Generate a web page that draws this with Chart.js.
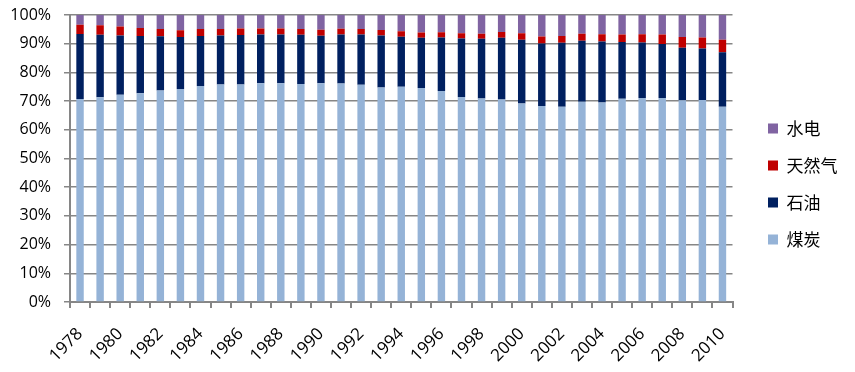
<!DOCTYPE html>
<html lang="zh">
<head>
    <meta charset="UTF-8">
    <title>能源消费结构</title>
    <script src="https://cdn.jsdelivr.net/npm/chart.js"></script>
    <style>
        html, body { margin: 0; padding: 0; background: #fff; }
        .container { width: 855px; height: 372px; }
    </style>
</head>
<body>
    <div class="container">
        <canvas id="energyChart" width="855" height="372"></canvas>
    </div>

    <script>
        const years = ['1978', '1979', '1980', '1981', '1982', '1983', '1984', '1985', '1986', '1987', '1988',
            '1989', '1990', '1991', '1992', '1993', '1994', '1995', '1996', '1997', '1998', '1999',
            '2000', '2001', '2002', '2003', '2004', '2005', '2006', '2007', '2008', '2009', '2010'];

        // share of total energy consumption, %
        const coal = [70.7, 71.3, 72.2, 72.7, 73.7, 74.2, 75.3, 75.8, 75.8, 76.2, 76.2,
            76.0, 76.2, 76.1, 75.7, 74.7, 75.0, 74.6, 73.5, 71.4, 70.9, 70.6,
            69.2, 68.3, 68.0, 69.8, 69.5, 70.8, 71.1, 71.1, 70.3, 70.4, 68.0];
        const oil = [22.7, 21.8, 20.7, 20.0, 18.9, 18.1, 17.4, 17.1, 17.2, 17.0, 17.0,
            17.1, 16.6, 17.1, 17.5, 18.2, 17.4, 17.5, 18.7, 20.4, 20.8, 21.5,
            22.2, 21.8, 22.3, 21.2, 21.3, 19.8, 19.3, 18.8, 18.3, 17.9, 19.0];
        const gas = [3.2, 3.3, 3.1, 2.8, 2.5, 2.4, 2.4, 2.2, 2.3, 2.1, 2.1,
            2.0, 2.1, 2.0, 1.9, 1.9, 1.9, 1.8, 1.8, 1.8, 1.8, 2.0,
            2.2, 2.4, 2.4, 2.5, 2.5, 2.6, 2.9, 3.3, 3.7, 3.9, 4.4];
        const hydro = [3.4, 3.6, 4.0, 4.5, 4.9, 5.3, 4.9, 4.9, 4.7, 4.7, 4.7,
            4.9, 5.1, 4.8, 4.9, 5.2, 5.7, 6.1, 6.0, 6.4, 6.5, 5.9,
            6.4, 7.5, 7.3, 6.5, 6.7, 6.8, 6.7, 6.8, 7.7, 7.8, 8.6];

        const gray = '#868686';
        const axisFont = { family: '"Open Sans", sans-serif', size: 16 };

        // move the legend a little to the right and up, like the original
        const legendShift = {
            id: 'legendShift',
            afterLayout(chart) {
                const lg = chart.legend;
                const w = lg.width;
                lg.left = 748;
                lg.right = lg.left + w;
                lg.top = 2;
                lg.bottom = 366;
            }
        };

        const ctx = document.getElementById('energyChart').getContext('2d');
        new Chart(ctx, {
            type: 'bar',
            data: {
                labels: years,
                datasets: [
                    { label: '煤炭', data: coal, backgroundColor: '#95B3D7' },
                    { label: '石油', data: oil, backgroundColor: '#002060' },
                    { label: '天然气', data: gas, backgroundColor: '#C00000' },
                    { label: '水电', data: hydro, backgroundColor: '#8064A2' }
                ]
            },
            plugins: [legendShift],
            options: {
                responsive: false,
                animation: false,
                layout: { padding: { top: 0, left: 0, right: 23, bottom: 0 } },
                datasets: {
                    bar: { categoryPercentage: 1.0, barPercentage: 0.37 }
                },
                plugins: {
                    tooltip: { enabled: false },
                    legend: {
                        position: 'right',
                        reverse: true,
                        labels: {
                            boxWidth: 10,
                            boxHeight: 10,
                            padding: 20,
                            color: '#000',
                            font: { family: '"Noto Sans CJK SC", sans-serif', size: 17 }
                        }
                    }
                },
                scales: {
                    x: {
                        stacked: true,
                        afterFit: scale => { scale.height = 70; },
                        grid: {
                            offset: true,
                            drawOnChartArea: false,
                            drawTicks: true,
                            tickLength: 6,
                            color: gray,
                            lineWidth: 2
                        },
                        border: { color: gray, width: 2 },
                        ticks: {
                            autoSkip: false,
                            maxRotation: 45,
                            minRotation: 45,
                            padding: 16,
                            color: '#000',
                            font: { family: '"Open Sans", sans-serif', size: 17 },
                            callback: function (value, index) {
                                return index % 2 === 0 ? years[index] : '';
                            }
                        }
                    },
                    y: {
                        stacked: true,
                        min: 0,
                        max: 100,
                        afterFit: scale => {
                            scale.width = 70;
                            scale.paddingTop = 15;
                            scale.paddingBottom = 0;
                        },
                        grid: {
                            color: gray,
                            lineWidth: 1.5,
                            tickLength: 6
                        },
                        border: { color: gray, width: 2 },
                        ticks: {
                            stepSize: 10,
                            color: '#000',
                            font: axisFont,
                            padding: 13,
                            callback: value => value + '%'
                        }
                    }
                }
            }
        });
    </script>
</body>
</html>
